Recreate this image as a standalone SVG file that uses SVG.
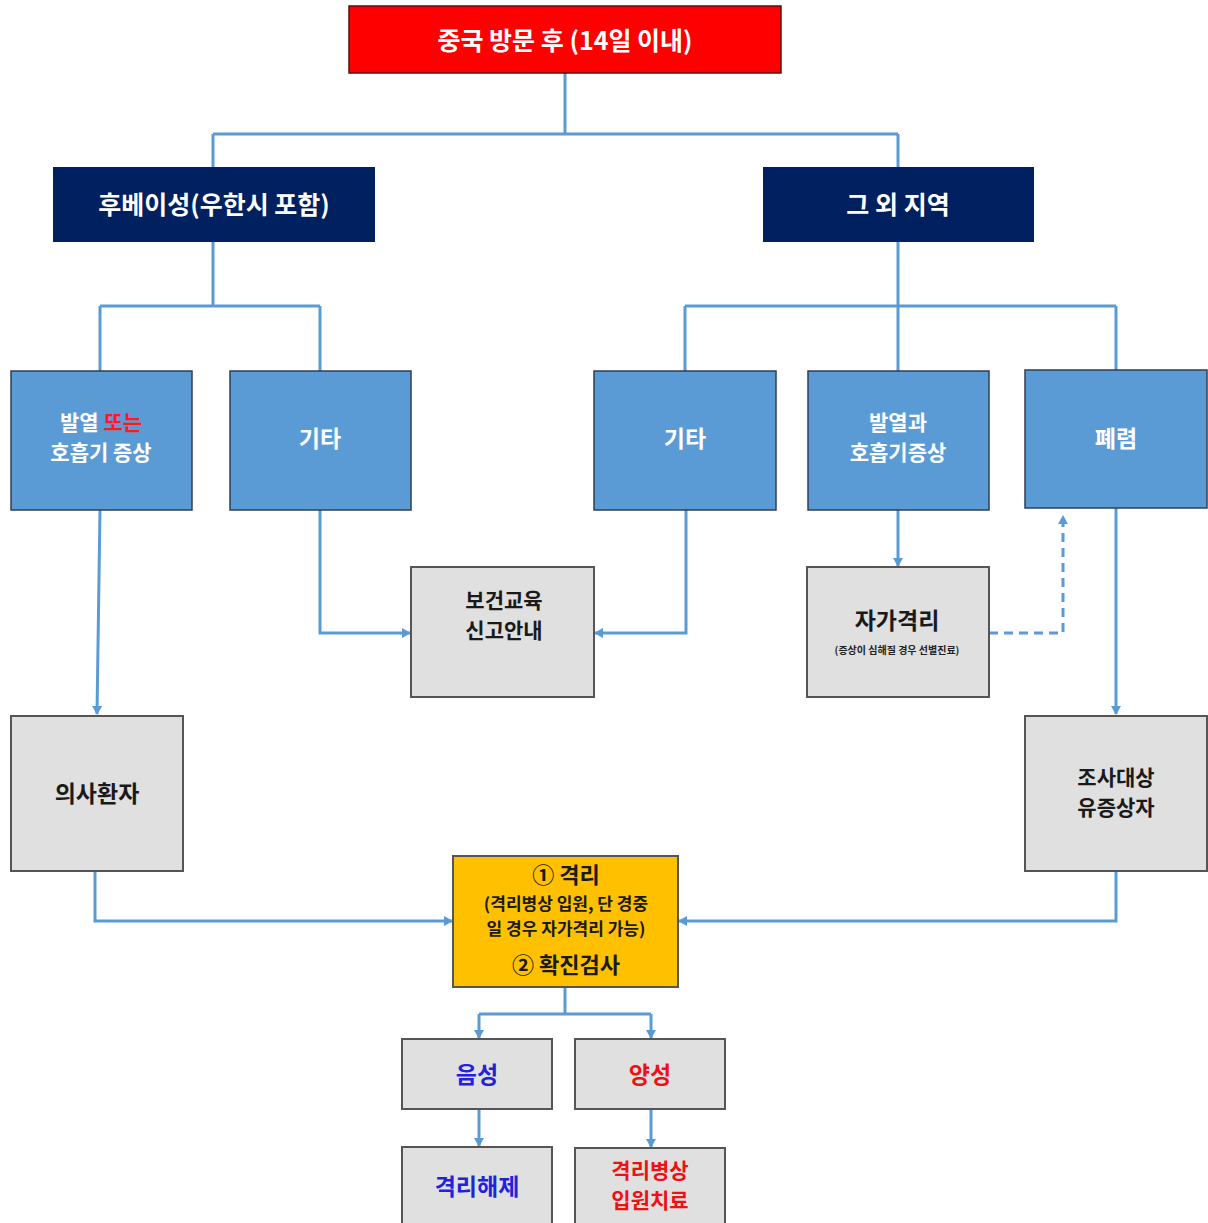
<svg xmlns="http://www.w3.org/2000/svg" width="1208" height="1223" viewBox="0 0 1208 1223">
<style>
text{font-family:"Noto Sans CJK KR","Noto Sans",sans-serif;font-weight:bold;text-anchor:middle;dominant-baseline:central}
.w{fill:#FFFFFF;font-size:21px}
.wl{fill:#FFFFFF;font-size:25px}
.k{fill:#1A1A1A;font-size:21px}
.kl{fill:#1A1A1A;font-size:23px}
.blue{fill:#5B9BD5;stroke:#2F3F55;stroke-width:1.5}
.gray{fill:#E0E0E0;stroke:#555555;stroke-width:2}
.ln{fill:none;stroke:#5B9BD5;stroke-width:3}
</style>
<defs>
<marker id="ah" markerWidth="10" markerHeight="10" refX="8" refY="5" orient="auto" markerUnits="userSpaceOnUse"><path d="M0,0 L9,5 L0,10 Z" fill="#5B9BD5"/></marker>
</defs>
<rect width="1208" height="1223" fill="#FFFFFF"/>
<g id="connectors">
<path class="ln" d="M565,73 V134 M213,134 H898 M213,134 V167 M898,134 V167"/>
<path class="ln" d="M213,242 V306 M100,306 H320 M100,306 V371 M320,306 V371"/>
<path class="ln" d="M898,242 V306 M685,306 H1116 M685,306 V371 M898,306 V371 M1116,306 V370"/>
<path class="ln" d="M100,510 L97,714" marker-end="url(#ah)"/>
<path class="ln" d="M320,510 V633 H410" marker-end="url(#ah)"/>
<path class="ln" d="M686,510 V633 H595" marker-end="url(#ah)"/>
<path class="ln" d="M898,510 V566" marker-end="url(#ah)"/>
<path class="ln" d="M989,633 H1063 V516" stroke-dasharray="9,6" marker-end="url(#ah)"/>
<path class="ln" d="M1116,508 V714" marker-end="url(#ah)"/>
<path class="ln" d="M95,871 V921 H452" marker-end="url(#ah)"/>
<path class="ln" d="M1116,871 V921 H679" marker-end="url(#ah)"/>
<path class="ln" d="M565,987 V1014 M479,1014 H651"/>
<path class="ln" d="M479,1014 V1038" marker-end="url(#ah)"/>
<path class="ln" d="M651,1014 V1038" marker-end="url(#ah)"/>
<path class="ln" d="M479,1109 V1146" marker-end="url(#ah)"/>
<path class="ln" d="M651,1109 V1147" marker-end="url(#ah)"/>
</g>
<g id="top">
<rect x="349" y="6" width="432" height="67" fill="#FF0000" stroke="#5A1010" stroke-width="1.5"/>
<text class="wl" x="565" y="39">중국 방문 후 (14일 이내)</text>
</g>
<g id="hubei">
<rect x="53" y="167" width="322" height="75" fill="#002060"/>
<text class="wl" x="214" y="203">후베이성(우한시 포함)</text>
</g>
<g id="other-region">
<rect x="763" y="167" width="271" height="75" fill="#002060"/>
<text class="wl" x="898" y="203">그 외 지역</text>
</g>
<g id="fever-or">
<rect class="blue" x="11" y="371" width="181" height="139"/>
<text class="w" x="101" y="421">발열 <tspan fill="#FF1A1A">또는</tspan></text>
<text class="w" x="101" y="451">호흡기 증상</text>
</g>
<g id="etc-left">
<rect class="blue" x="230" y="371" width="181" height="139"/>
<text class="kl" x="320" y="437" style="fill:#FFFFFF">기타</text>
</g>
<g id="etc-right">
<rect class="blue" x="594" y="371" width="182" height="139"/>
<text class="kl" x="685" y="437" style="fill:#FFFFFF">기타</text>
</g>
<g id="fever-and">
<rect class="blue" x="808" y="371" width="181" height="139"/>
<text class="w" x="898" y="421">발열과</text>
<text class="w" x="898" y="451">호흡기증상</text>
</g>
<g id="pneumonia">
<rect class="blue" x="1025" y="370" width="182" height="138"/>
<text class="kl" x="1116" y="437" style="fill:#FFFFFF">폐렴</text>
</g>
<g id="health-edu">
<rect class="gray" x="411" y="567" width="183" height="130"/>
<text class="k" x="504" y="599">보건교육</text>
<text class="k" x="504" y="629">신고안내</text>
</g>
<g id="self-quarantine">
<rect class="gray" x="807" y="567" width="182" height="130"/>
<text class="kl" x="897" y="619">자가격리</text>
<text x="897" y="649" style="font-size:10px;fill:#222">(증상이 심해질 경우 선별진료)</text>
</g>
<g id="suspected">
<rect class="gray" x="11" y="716" width="172" height="155"/>
<text class="kl" x="97" y="792">의사환자</text>
</g>
<g id="investigation">
<rect class="gray" x="1025" y="716" width="182" height="155"/>
<text class="k" x="1116" y="776">조사대상</text>
<text class="k" x="1116" y="806">유증상자</text>
</g>
<g id="isolation-test">
<rect x="453" y="856" width="225" height="131" fill="#FFC000" stroke="#555" stroke-width="2"/>
<text x="566" y="873" style="font-size:22px;fill:#1A1A1A">① 격리</text>
<text x="566" y="902" style="font-size:17px;fill:#1A1A1A">(격리병상 입원, 단 경중</text>
<text x="566" y="927" style="font-size:17px;fill:#1A1A1A">일 경우 자가격리 가능)</text>
<text x="566" y="963" style="font-size:22px;fill:#1A1A1A">② 확진검사</text>
</g>
<g id="negative">
<rect class="gray" x="402" y="1039" width="150" height="70"/>
<text x="477" y="1073" style="font-size:23px;fill:#2222DD">음성</text>
</g>
<g id="positive">
<rect class="gray" x="575" y="1039" width="150" height="70"/>
<text x="650" y="1073" style="font-size:23px;fill:#EE1111">양성</text>
</g>
<g id="release">
<rect class="gray" x="402" y="1147" width="150" height="80"/>
<text x="477" y="1185" style="font-size:23px;fill:#2222DD">격리해제</text>
</g>
<g id="hospital">
<rect class="gray" x="575" y="1148" width="150" height="80"/>
<text x="650" y="1169" style="font-size:21px;fill:#EE1111">격리병상</text>
<text x="650" y="1199" style="font-size:21px;fill:#EE1111">입원치료</text>
</g>
</svg>
